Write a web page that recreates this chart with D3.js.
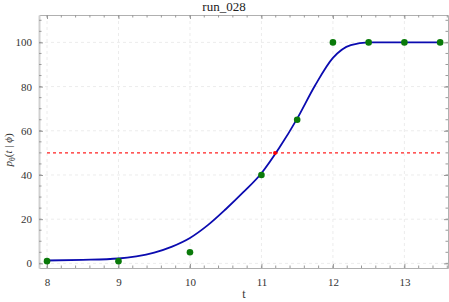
<!DOCTYPE html>
<html>
<head>
<meta charset="utf-8">
<script src="https://cdn.jsdelivr.net/npm/d3@7"></script>
<style>
  body { margin: 0; background: #fff; }
  text { font-family: "Liberation Serif", "DejaVu Serif", serif; }
</style>
</head>
<body>
<div id="container"></div>
<script>
var w = 449;
var h = 302;

// observed points
var obsT = [8, 9, 10, 11, 11.5, 12, 12.5, 13, 13.5];
var obsP = [1, 1, 5, 40, 65, 100, 100, 100, 100];

// fitted curve
var fitT = [8, 8.5, 9, 9.25, 9.5, 9.75, 10, 10.25, 10.5, 10.75, 11, 11.25, 11.5, 11.75, 12, 12.25, 12.5, 13, 13.5];
var fitP = [1.3, 1.6, 2.2, 3.2, 4.9, 7.6, 11.5, 17.3, 24.5, 32.3, 40.8, 52.3, 65.5, 80.5, 93, 98.8, 100, 100, 100];

var threshold = 50;
var crossT = 11.19;
var xTicks = [8, 9, 10, 11, 12, 13];
var yTicks = [0, 20, 40, 60, 80, 100];

var m = {left: 39, right: 1, top: 15, bottom: 34};

var svg = d3.select("div#container")
    .append("svg")
    .attr("width", w)
    .attr("height", h);

var x = d3.scaleLinear().domain([7.888, 13.61]).range([m.left, w - m.right]);
var y = d3.scaleLinear().domain([-2.1, 112.4]).range([h - m.bottom, m.top]);

// grid
var grid = svg.append("g").attr("stroke", "#ececec").attr("stroke-dasharray", "3,3").attr("stroke-width", 1);
grid.selectAll(".gx").data(xTicks).enter().append("line")
    .attr("x1", d => x(d)).attr("x2", d => x(d))
    .attr("y1", m.top).attr("y2", h - m.bottom);
grid.selectAll(".gy").data(yTicks).enter().append("line")
    .attr("x1", m.left).attr("x2", w - m.right)
    .attr("y1", d => y(d)).attr("y2", d => y(d));

// frame with ticks on all four sides
var xMinor = d3.range(7.8, 13.61, 0.2).filter(v => v >= 7.888);
var yMinor = d3.range(0, 112.4, 5);

var bottomAx = d3.axisBottom(x).tickValues(xTicks).tickSize(4).tickPadding(6).tickFormat(d3.format("d"));
var topAx = d3.axisTop(x).tickValues(xTicks).tickSize(4).tickFormat("");
var leftAx = d3.axisLeft(y).tickValues(yTicks).tickSize(4).tickPadding(3).tickFormat(d3.format("d"));
var rightAx = d3.axisRight(y).tickValues(yTicks).tickSize(4).tickFormat("");

function styleAxis(g) {
  g.select(".domain").attr("stroke", "#b0b0b0");
  g.selectAll(".tick line").attr("stroke", "#999");
  g.selectAll("text").attr("fill", "#333").style("font-size", "11px");
}

var gb = svg.append("g").attr("transform", "translate(0," + (h - m.bottom) + ")").call(bottomAx.tickSizeOuter(0));
gb.selectAll(".tick line").attr("y2", -4);
styleAxis(gb);
gb.selectAll(".minor").data(xMinor).enter().append("line")
    .attr("x1", d => x(d)).attr("x2", d => x(d)).attr("y1", 0).attr("y2", -2.5).attr("stroke", "#999");

var gt = svg.append("g").attr("transform", "translate(0," + m.top + ")").call(topAx.tickSizeOuter(0));
gt.selectAll(".tick line").attr("y2", 4);
styleAxis(gt);
gt.selectAll(".minor").data(xMinor).enter().append("line")
    .attr("x1", d => x(d)).attr("x2", d => x(d)).attr("y1", 0).attr("y2", 2.5).attr("stroke", "#999");

var gl = svg.append("g").attr("transform", "translate(" + m.left + ",0)").call(leftAx.tickSizeOuter(0));
gl.selectAll(".tick line").attr("x2", 4);
styleAxis(gl);
gl.select(".domain").attr("stroke", "#d0d0d0").attr("stroke-width", 2);
gl.selectAll(".minor").data(yMinor).enter().append("line")
    .attr("y1", d => y(d)).attr("y2", d => y(d)).attr("x1", 0).attr("x2", 2.5).attr("stroke", "#999");

var gr = svg.append("g").attr("transform", "translate(" + (w - m.right) + ",0)").call(rightAx.tickSizeOuter(0));
gr.selectAll(".tick line").attr("x2", -4);
styleAxis(gr);
gr.selectAll(".minor").data(yMinor).enter().append("line")
    .attr("y1", d => y(d)).attr("y2", d => y(d)).attr("x1", 0).attr("x2", -2.5).attr("stroke", "#999");

// threshold
svg.append("line")
    .attr("x1", x(obsT[0])).attr("x2", x(obsT[obsT.length - 1]))
    .attr("y1", y(threshold)).attr("y2", y(threshold))
    .attr("stroke", "#ff2020").attr("stroke-width", 1.2).attr("stroke-dasharray", "3,3");

// fitted curve
var line = d3.line().x((d, i) => x(fitT[i])).y(d => y(d)).curve(d3.curveMonotoneX);
svg.append("path")
    .datum(fitP)
    .attr("d", line)
    .attr("fill", "none")
    .attr("stroke", "#0b0bb0")
    .attr("stroke-width", 1.8);

// crossing marker
svg.append("circle")
    .attr("cx", x(crossT)).attr("cy", y(threshold)).attr("r", 2)
    .attr("fill", "#ff0000");

// observations
svg.append("g").attr("fill", "#0a7a0a")
  .selectAll("circle")
  .data(obsP)
  .enter()
  .append("circle")
    .attr("cx", (d, i) => x(obsT[i]))
    .attr("cy", d => y(d))
    .attr("r", 3.3);

// labels
svg.append("text").attr("x", 224).attr("y", 11).attr("text-anchor", "middle")
    .style("font-size", "13px").attr("fill", "#222").text("run_028");
svg.append("text").attr("x", 244).attr("y", 298).attr("text-anchor", "middle")
    .style("font-size", "12px").attr("fill", "#333").text("t");

var yl = svg.append("text")
    .attr("transform", "translate(12,150) rotate(-90)")
    .attr("text-anchor", "middle").style("font-size", "11px").attr("fill", "#333");
yl.append("tspan").style("font-style", "italic").text("p");
yl.append("tspan").attr("dy", 2.5).style("font-size", "8px").text("θ");
yl.append("tspan").attr("dy", -2.5).text("(");
yl.append("tspan").style("font-style", "italic").text("t");
yl.append("tspan").text(" | ");
yl.append("tspan").style("font-style", "italic").text("ϕ");
yl.append("tspan").text(")");
</script>
</body>
</html>
